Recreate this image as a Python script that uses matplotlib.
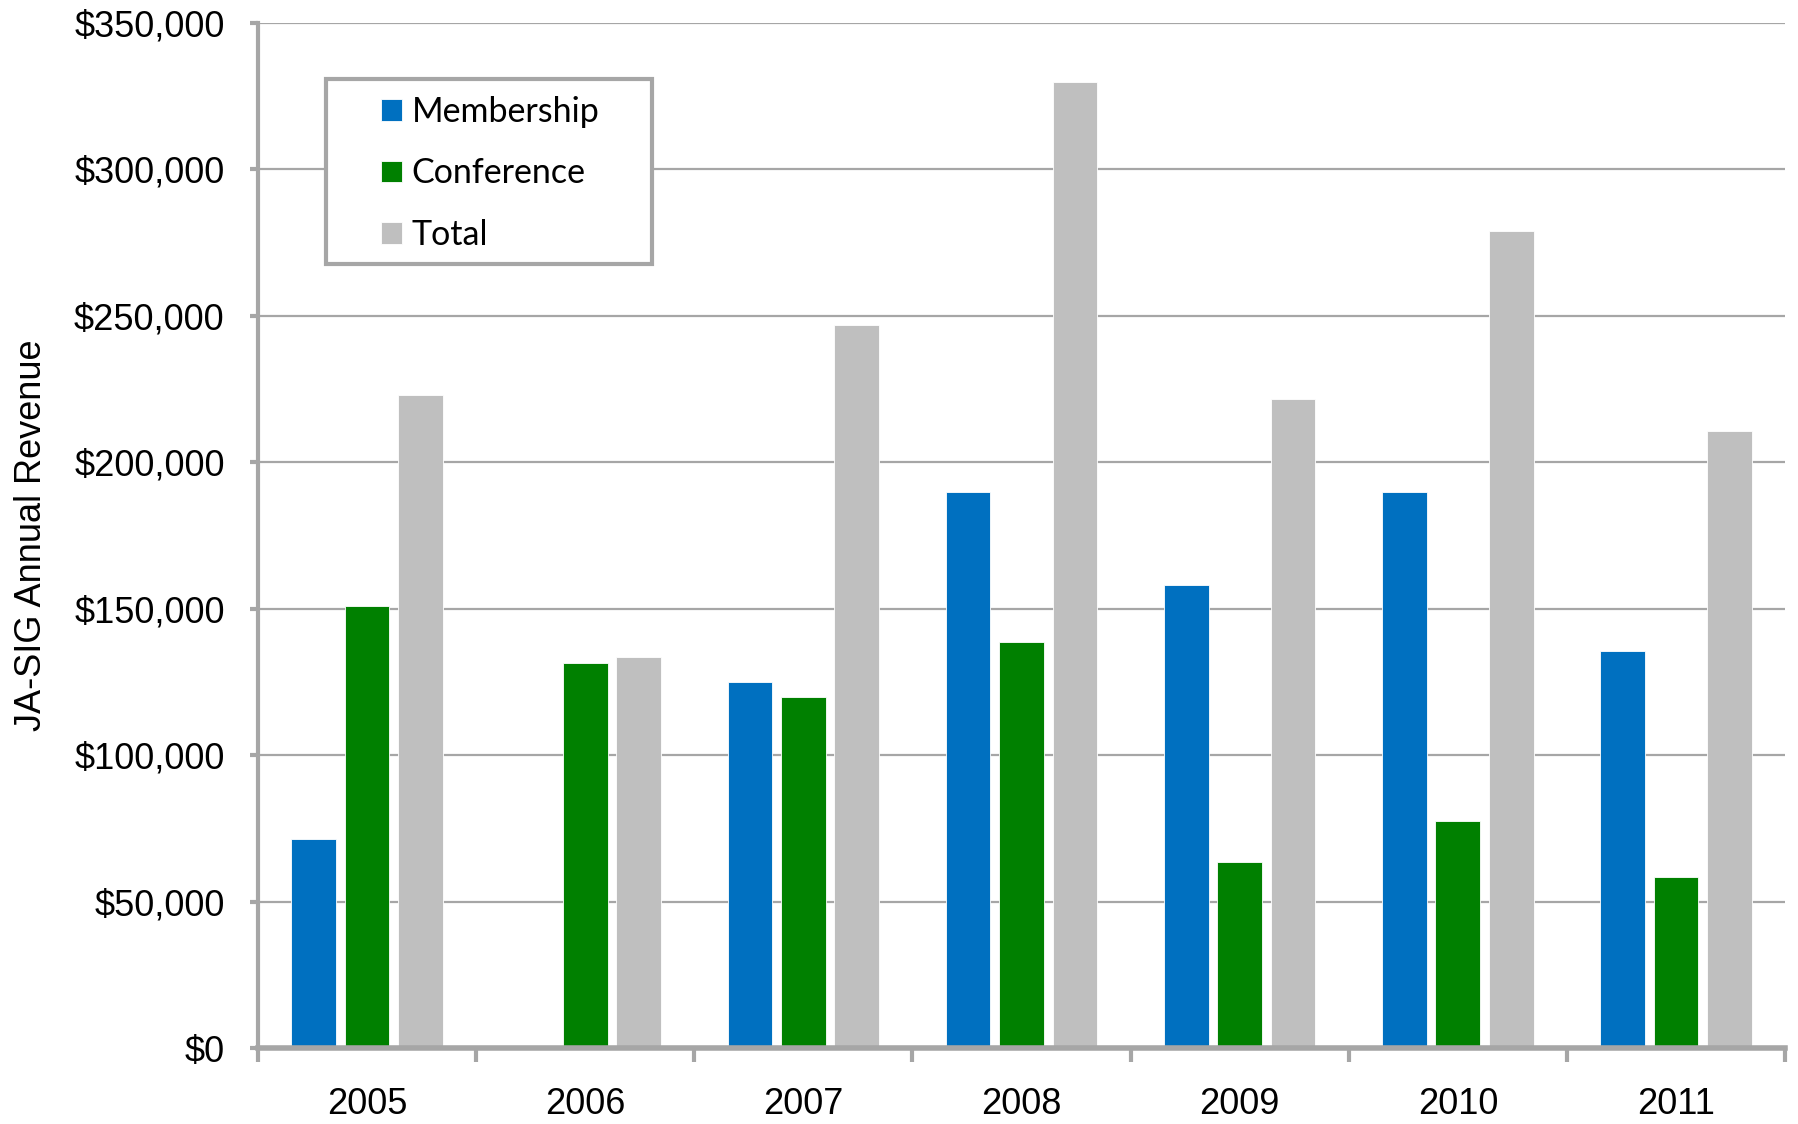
import numpy as np
import matplotlib
matplotlib.use('Agg')
import matplotlib.pyplot as plt
from matplotlib.patches import Rectangle
from matplotlib.ticker import FuncFormatter, MultipleLocator, FixedLocator

# Annual revenue by source
years = ['2005', '2006', '2007', '2008', '2009', '2010', '2011']
membership = [71500, 0, 125000, 190000, 158000, 190000, 135500]
conference = [151000, 131500, 119800, 138700, 63400, 77500, 58300]
total = [222800, 133600, 246700, 330000, 221700, 278800, 210800]

series_names = ['Membership', 'Conference', 'Total']
series_colors = ['#0070C0', '#008000', '#BFBFBF']
grid_gray = '#A6A6A6'

plt.rcParams['font.family'] = ['Liberation Sans', 'DejaVu Sans']

fig = plt.figure(figsize=(17.98, 11.24), dpi=100)
ax = fig.add_axes([0.1435, 0.0676, 0.8493, 0.912])

x = np.arange(len(years))
width = 0.205
offsets = [-0.245, 0.0, 0.245]
for vals, off, name, col in zip([membership, conference, total], offsets,
                                series_names, series_colors):
    ax.bar(x + off, vals, width=width, color=col, label=name, zorder=3,
           edgecolor='white', linewidth=0.6)

ax.set_xlim(-0.5, len(years) - 0.5)
ax.set_ylim(0, 350000)

# y axis
ax.yaxis.set_major_locator(MultipleLocator(50000))
ax.yaxis.set_major_formatter(FuncFormatter(lambda v, p: f'${v:,.0f}'))
ax.tick_params(axis='y', which='major', labelsize=26, length=6, width=3,
               color=grid_gray, pad=18, direction='out')
ax.yaxis.grid(True, color=grid_gray, linewidth=1.6, zorder=0)
ax.set_ylabel('JA-SIG Annual Revenue', fontsize=26, labelpad=18)

# x axis: labels at group centers, ticks between groups
ax.set_xticks(x)
ax.set_xticklabels(years)
ax.xaxis.set_minor_locator(FixedLocator(np.arange(-0.5, len(years), 1.0)))
ax.tick_params(axis='x', which='major', labelsize=26, length=0, pad=28)
ax.tick_params(axis='x', which='minor', length=10, width=3, color=grid_gray,
               direction='out')

for side in ['top', 'right']:
    ax.spines[side].set_visible(False)
ax.spines['left'].set_color(grid_gray)
ax.spines['left'].set_linewidth(3)
ax.spines['bottom'].set_color(grid_gray)
ax.spines['bottom'].set_linewidth(4)
ax.spines['bottom'].set_zorder(4)

# legend with a square gray frame
leg = ax.legend(loc='upper left', bbox_to_anchor=(0.0806, 0.929),
                frameon=False, borderpad=0, borderaxespad=0,
                prop={'family': 'Lato', 'size': 24.5},
                handlelength=0.6, handleheight=0.6, handletextpad=0.3,
                labelspacing=0.87)
ax.add_patch(Rectangle((0.0445, 0.765), 0.2135, 0.1805, transform=ax.transAxes,
                       facecolor='white', edgecolor=grid_gray, linewidth=3,
                       zorder=5))
leg.set_zorder(6)

fig.savefig('out.png', dpi=100)
